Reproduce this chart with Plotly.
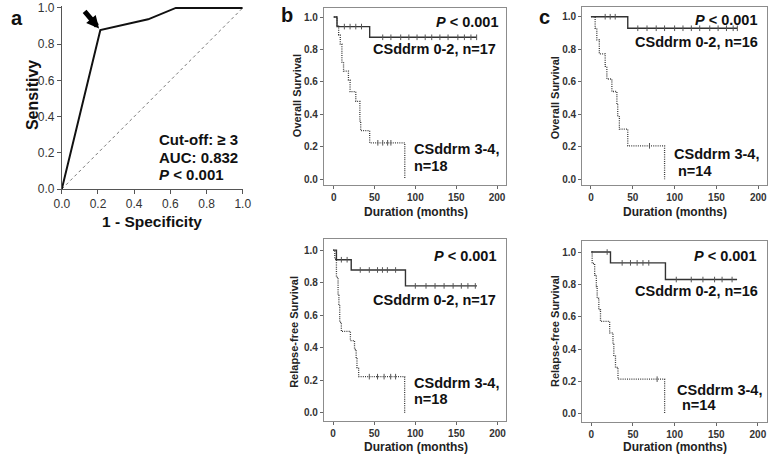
import plotly.graph_objects as go

W, H = 778, 461
FONT = "Liberation Sans, Arial, sans-serif"

# ---------------- Data ----------------
# Panel a: ROC curve
roc_fpr = [0.0, 0.213, 0.477, 0.63, 1.0]
roc_tpr = [0.0, 0.878, 0.937, 1.0, 1.0]
ref_line = [0.0, 1.0]
cutoff_point = (0.213, 0.878)

# Panel b (top): Overall survival
os_b_low_t = [0, 4, 44, 175]
os_b_low_s = [1.0, 0.941, 0.875, 0.875]
os_b_low_cens = [13, 20, 27, 34, 60, 70, 82, 92, 102, 112, 120, 130, 140, 152, 160, 168, 175]
os_b_high_t = [0, 4, 6, 8, 10, 12, 18, 20, 27, 32, 33, 44, 87]
os_b_high_s = [1.0, 0.944, 0.889, 0.833, 0.722, 0.667, 0.611, 0.54, 0.48, 0.36, 0.30, 0.225, 0.0]
os_b_high_cens = [54, 60, 66, 70]

# Panel c (top): Overall survival
os_c_low_t = [0, 44, 175]
os_c_low_s = [1.0, 0.929, 0.929]
os_c_low_cens = [17, 23, 29, 56, 67, 78, 88, 100, 110, 120, 130, 142, 152, 162, 170, 175]
os_c_high_t = [0, 5, 7, 10, 17, 19, 25, 31, 32, 34, 44, 88]
os_c_high_s = [1.0, 0.929, 0.857, 0.771, 0.694, 0.617, 0.54, 0.463, 0.386, 0.309, 0.206, 0.0]
os_c_high_cens = [70]

# Panel b (bottom): Relapse-free survival
rfs_b_low_t = [0, 4, 22, 88, 175]
rfs_b_low_s = [1.0, 0.941, 0.878, 0.78, 0.78]
rfs_b_low_cens = [10, 17, 33, 44, 54, 60, 66, 76, 100, 113, 124, 135, 146, 156, 164, 173]
rfs_b_high_t = [0, 2, 4, 6, 7, 8, 10, 21, 26, 28, 29, 31, 87]
rfs_b_high_s = [1.0, 0.944, 0.833, 0.722, 0.667, 0.556, 0.5, 0.444, 0.389, 0.333, 0.278, 0.222, 0.0]
rfs_b_high_cens = [44, 54, 62, 70, 76]

# Panel c (bottom): Relapse-free survival
rfs_c_low_t = [0, 23, 89, 175]
rfs_c_low_s = [1.0, 0.933, 0.83, 0.83]
rfs_c_low_cens = [19, 37, 47, 55, 62, 69, 102, 120, 134, 148, 157, 169]
rfs_c_high_t = [0, 1, 4, 6, 7, 9, 11, 22, 26, 27, 29, 32, 88]
rfs_c_high_s = [1.0, 0.929, 0.857, 0.786, 0.714, 0.643, 0.571, 0.5, 0.429, 0.357, 0.286, 0.214, 0.0]
rfs_c_high_cens = [79]

roc_ticks = [0.0, 0.2, 0.4, 0.6, 0.8, 1.0]
km_y_ticks = [0.0, 0.2, 0.4, 0.6, 0.8, 1.0]
km_x_ticks = [0, 50, 100, 150, 200]


# ---------------- Helpers ----------------
def dom_x(x0, x1):
    return [x0 / W, x1 / W]


def dom_y(y0, y1):
    return [1 - y1 / H, 1 - y0 / H]


def px(x):
    return x / W


def py(y):
    return 1 - y / H


def step_at(ts, ss, t):
    v = ss[0]
    for ti, si in zip(ts, ss):
        if ti <= t:
            v = si
    return v


fig = go.Figure()

# ---- Panel a ----
fig.add_trace(go.Scatter(x=ref_line, y=ref_line, mode="lines",
                         line=dict(color="#555555", width=0.8, dash="dot"),
                         xaxis="x", yaxis="y", showlegend=False, hoverinfo="skip"))
fig.add_trace(go.Scatter(x=roc_fpr, y=roc_tpr, mode="lines",
                         line=dict(color="#111111", width=2),
                         xaxis="x", yaxis="y", showlegend=False))

# ---- KM panels ----
km_panels = [
    ("x2", "y2", os_b_low_t, os_b_low_s, os_b_low_cens, os_b_high_t, os_b_high_s, os_b_high_cens),
    ("x3", "y3", os_c_low_t, os_c_low_s, os_c_low_cens, os_c_high_t, os_c_high_s, os_c_high_cens),
    ("x4", "y4", rfs_b_low_t, rfs_b_low_s, rfs_b_low_cens, rfs_b_high_t, rfs_b_high_s, rfs_b_high_cens),
    ("x5", "y5", rfs_c_low_t, rfs_c_low_s, rfs_c_low_cens, rfs_c_high_t, rfs_c_high_s, rfs_c_high_cens),
]
for xa, ya, lt, ls, lc, ht, hs, hc in km_panels:
    fig.add_trace(go.Scatter(x=ht, y=hs, mode="lines", line_shape="hv",
                             line=dict(color="#3a3a3a", width=1.3, dash="1px,1.2px"),
                             xaxis=xa, yaxis=ya, showlegend=False))
    fig.add_trace(go.Scatter(x=hc, y=[step_at(ht, hs, t) for t in hc], mode="markers",
                             marker=dict(symbol="line-ns-open", size=4, color="#555555",
                                         line=dict(color="#555555", width=1)),
                             xaxis=xa, yaxis=ya, showlegend=False))
    fig.add_trace(go.Scatter(x=lt, y=ls, mode="lines", line_shape="hv",
                             line=dict(color="#333333", width=1.4),
                             xaxis=xa, yaxis=ya, showlegend=False))
    fig.add_trace(go.Scatter(x=lc, y=[step_at(lt, ls, t) for t in lc], mode="markers",
                             marker=dict(symbol="line-ns-open", size=4, color="#555555",
                                         line=dict(color="#555555", width=1)),
                             xaxis=xa, yaxis=ya, showlegend=False))

roc_ax = dict(showgrid=False, zeroline=False, showline=True, linecolor="#555555", linewidth=1,
              ticks="outside", ticklen=4, tickcolor="#555555", tickvals=roc_ticks,
              ticktext=[f"{v:.1f}" for v in roc_ticks], ticklabeloverflow="allow",
              tickfont=dict(family=FONT, size=12, color="#333333"), fixedrange=True)

km_common = dict(showgrid=False, zeroline=False, showline=True, mirror=True,
                 linecolor="#8c8c8c", linewidth=1, ticks="outside", ticklen=3, tickcolor="#666666",
                 ticklabeloverflow="allow",
                 tickfont=dict(family=FONT, size=10, color="#333333", weight="bold"), fixedrange=True)

km_x = dict(km_common, tickvals=km_x_ticks, ticktext=[str(v) for v in km_x_ticks])
km_y = dict(km_common, tickvals=km_y_ticks, ticktext=[f"{v:.1f}" for v in km_y_ticks])

fig.update_layout(
    width=W, height=H, autosize=False,
    margin=dict(l=0, r=0, t=0, b=0),
    paper_bgcolor="white", plot_bgcolor="white",
    font=dict(family=FONT, color="#111111"),
    xaxis=dict(roc_ax, domain=dom_x(55, 240), range=[0, 1.0], anchor="y"),
    yaxis=dict(roc_ax, domain=dom_y(1.1, 189), range=[0, 1.01], anchor="x"),
    xaxis2=dict(km_x, domain=dom_x(323, 509), range=[-12, 210.8], anchor="y2"),
    yaxis2=dict(km_y, domain=dom_y(3, 185), range=[-0.036, 1.056], anchor="x2"),
    xaxis3=dict(km_x, domain=dom_x(587, 776), range=[-10.5, 210.5], anchor="y3"),
    yaxis3=dict(km_y, domain=dom_y(2, 185), range=[-0.036, 1.06], anchor="x3"),
    xaxis4=dict(km_x, domain=dom_x(323, 509), range=[-11.2, 210.2], anchor="y4"),
    yaxis4=dict(km_y, domain=dom_y(240, 427), range=[-0.05, 1.07], anchor="x4"),
    xaxis5=dict(km_x, domain=dom_x(587, 776), range=[-11, 211], anchor="y5"),
    yaxis5=dict(km_y, domain=dom_y(242, 428), range=[-0.05, 1.07], anchor="x5"),
)

ann = []


def text(s, x, y, size, xanchor="center", angle=0, bold=True, color="#111111"):
    ann.append(dict(text=(f"<b>{s}</b>" if bold else s), x=px(x), y=py(y), xref="paper", yref="paper",
                    xanchor=xanchor, yanchor="middle", showarrow=False, textangle=angle,
                    font=dict(family=FONT, size=size, color=color)))


# panel letters
text("a", 9, 13, 20)
text("b", 285, 10, 20)
text("c", 548, 12, 20)

# panel a labels
text("Sensitivy", 25, 92, 16, angle=-90)
text("1 - Specificity", 147, 222, 15.5)
text("Cut-off: ≥ 3", 152, 138, 15, xanchor="left")
text("AUC: 0.832", 152, 157, 15, xanchor="left")
text("<i>P</i> < 0.001", 152, 174, 15, xanchor="left")

# arrow at cut-off
ann.append(dict(x=cutoff_point[0], y=cutoff_point[1], xref="x", yref="y", ax=-17, ay=-20,
                showarrow=True, arrowhead=2, arrowsize=0.5, arrowwidth=5, arrowcolor="#000000",
                standoff=2, text=""))

# KM axis titles
text("Overall Survival", 295, 93, 11, angle=-90, color="#222222")
text("Overall Survival", 559, 95, 11, angle=-90, color="#222222")
text("Relapse-free Survival", 293, 336, 11, angle=-90, color="#222222")
text("Relapse-free Survival", 560, 335, 11, angle=-90, color="#222222")
text("Duration (months)", 417, 213, 12, color="#222222")
text("Duration (months)", 682, 213, 12, color="#222222")
text("Duration (months)", 417, 454, 12, color="#222222")
text("Duration (months)", 682, 454, 12, color="#222222")

# KM annotations
text("<i>P</i> < 0.001", 503, 17, 14.5, xanchor="right")
text("CSddrm 0-2, n=17", 501, 45, 14.5, xanchor="right")
text("CSddrm 3-4,", 413, 148, 14.5, xanchor="left")
text("n=18", 413, 165, 14.5, xanchor="left")

text("<i>P</i> < 0.001", 768, 15, 14.5, xanchor="right")
text("CSddrm 0-2, n=16", 769, 38, 14.5, xanchor="right")
text("CSddrm 3-4,", 679, 153, 14.5, xanchor="left")
text("n=14", 683, 170, 14.5, xanchor="left")

text("<i>P</i> < 0.001", 501, 258, 14.5, xanchor="right")
text("CSddrm 0-2, n=17", 501, 303, 14.5, xanchor="right")
text("CSddrm 3-4,", 413, 388, 14.5, xanchor="left")
text("n=18", 413, 405, 14.5, xanchor="left")

text("<i>P</i> < 0.001", 767, 258, 14.5, xanchor="right")
text("CSddrm 0-2, n=16", 769, 294, 14.5, xanchor="right")
text("CSddrm 3-4,", 682, 395, 14.5, xanchor="left")
text("n=14", 687, 411, 14.5, xanchor="left")

fig.update_layout(annotations=ann)

fig.write_html("out.html", config={"displayModeBar": False},
               post_script="document.body.style.margin='0px';document.body.style.overflow='hidden';")
